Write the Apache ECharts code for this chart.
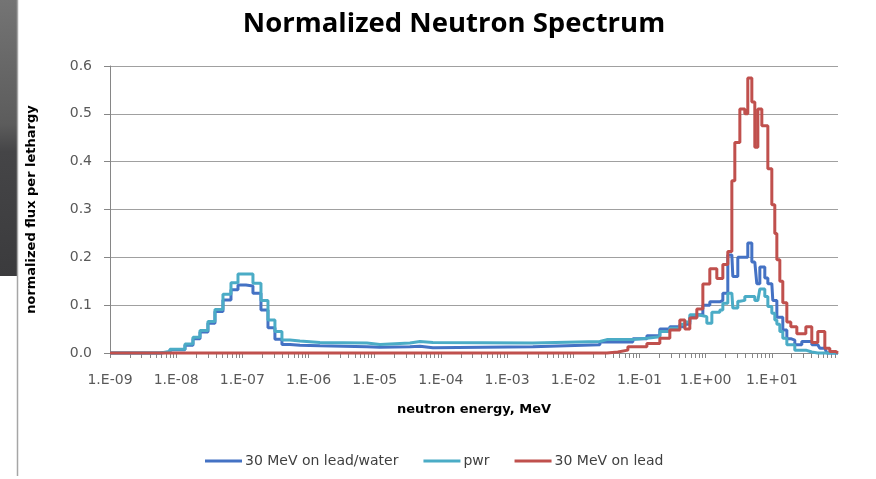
<!DOCTYPE html>
<html>
<head>
<meta charset="utf-8">
<script src="https://cdn.jsdelivr.net/npm/echarts@6/dist/echarts.min.js"></script>
<style>
html,body{margin:0;padding:0;background:#fff;}
#chart{width:876px;height:479px;}
</style>
</head>
<body>
<div id="chart"></div>
<script>
// log10 of neutron energy (MeV) at the lower edge of each step
const logEnergy = [-9, -8.245, -8.094, -7.867, -7.746, -7.640, -7.520, -7.414, -7.293, -7.172,
  -7.066, -6.946, -6.840, -6.719, -6.613, -6.508, -6.402, -6.281, -6.130, -5.828,
  -5.118, -4.921, -4.468, -4.317, -4.121, -2.610, -1.598, -1.492, -1.326, -1.175,
  -1.100, -0.888, -0.692, -0.541, -0.390, -0.314, -0.239, -0.133, -0.042, 0.018,
  0.063, 0.094, 0.169, 0.215, 0.260, 0.335, 0.396, 0.411, 0.441, 0.486,
  0.517, 0.592, 0.637, 0.698, 0.743, 0.773, 0.789, 0.819, 0.849, 0.894,
  0.940, 0.970, 1.000, 1.015, 1.045, 1.076, 1.121, 1.166, 1.227, 1.287,
  1.347, 1.378, 1.453, 1.514, 1.529, 1.604, 1.695, 1.725, 1.801, 1.831,
  1.876, 1.967, 2.0];

const leadWater = [0, .002, .007, .016, .030, .044, .062, .087, .111, .132,
  .142, .140, .125, .090, .053, .029, .018, .016, .015, .013,
  .012, .013, .014, .011, .013, .017, .023, .023, .023, .023,
  .030, .036, .050, .055, .055, .060, .075, .080, .100, .100,
  .107, .107, .107, .110, .125, .205, .205, .160, .160, .200,
  .200, .200, .230, .190, .190, .145, .145, .180, .180, .157,
  .145, .145, .145, .110, .110, .075, .075, .048, .030, .027,
  .017, .017, .024, .024, .024, .017, .017, .010, .010, 0,
  0, 0, 0];

const pwr = [0, .003, .008, .019, .033, .047, .066, .091, .123, .147,
  .165, .165, .146, .110, .069, .045, .027, .025, .022, .021,
  .018, .021, .024, .022, .021, .024, .028, .028, .028, .028,
  .031, .034, .045, .052, .060, .065, .080, .078, .076, .062,
  .062, .085, .085, .090, .104, .125, .125, .094, .094, .108,
  .110, .118, .118, .118, .110, .110, .110, .134, .134, .118,
  .097, .097, .083, .083, .069, .060, .045, .031, .017, .017,
  .006, .006, .006, .006, .002, 0, 0, 0, 0, 0,
  0, 0, 0];

const lead = [0, 0, 0, 0, 0, 0, 0, 0, 0, 0,
  0, 0, 0, 0, 0, 0, 0, 0, 0, 0,
  0, 0, 0, 0, 0, 0, 0, .002, .006, .013,
  .013, .020, .031, .048, .069, .050, .073, .092, .144, .144,
  .176, .176, .156, .156, .185, .212, .360, .360, .440, .440,
  .510, .500, .575, .525, .430, .430, .510, .510, .475, .475,
  .385, .385, .310, .310, .250, .195, .150, .105, .065, .055,
  .055, .040, .040, .055, .055, .022, .045, .045, .010, .010,
  .003, 0, 0];

const seriesNames = ['30 MeV on lead/water', 'pwr', '30 MeV on lead'];
const seriesColors = ['#4472C4', '#4BACC6', '#C0504D'];
const seriesValues = [leadWater, pwr, lead];

// x axis: decades of energy (exponent), -9 .. 2
const xMinExp = -9, xMaxExp = 2;

const tickPositions = [];
for (let e = xMinExp; e < xMaxExp; e++) {
  tickPositions.push(e);
  for (let m = 2; m <= 9; m++) tickPositions.push(e + Math.log10(m));
}
tickPositions.push(xMaxExp);

function fmtExp(v) {
  const e = Math.round(v);
  const a = Math.abs(e);
  return '1.E' + (e < 0 ? '-' : '+') + (a < 10 ? '0' + a : '' + a);
}

const chart = echarts.init(document.getElementById('chart'), null, {renderer: 'canvas'});
const font = 'DejaVu Sans';

chart.setOption({
  animation: false,
  backgroundColor: '#ffffff',
  title: {
    text: 'Normalized Neutron Spectrum',
    left: 449, top: 5, textAlign: 'center',
    textStyle: {fontFamily: 'Open Sans', fontWeight: 'bold', fontSize: 27.5, color: '#000000'}
  },
  graphic: [
    {type: 'rect', shape: {x: 0, y: 0, width: 17, height: 276},
     style: {fill: new echarts.graphic.LinearGradient(0, 0, 0.3, 1, [
       {offset: 0, color: '#747474'}, {offset: 0.45, color: '#5c5c5c'},
       {offset: 0.55, color: '#454547'}, {offset: 1, color: '#3b3b3d'}])}},
    {type: 'line', shape: {x1: 17.5, y1: 0, x2: 17.5, y2: 476},
     style: {stroke: '#a6a6a6', lineWidth: 1.5}}
  ],
  legend: {
    data: seriesNames,
    left: 200, top: 449,
    itemWidth: 37, itemHeight: 3, itemGap: 25,
    icon: 'rect',
    textStyle: {fontFamily: font, fontSize: 14, color: '#404040', padding: [0, 0, 0, -2]}
  },
  grid: {left: 110, right: 38, top: 66, bottom: 126, containLabel: false},
  xAxis: {
    type: 'value', min: xMinExp, max: xMaxExp, interval: 1,
    name: 'neutron energy, MeV', nameLocation: 'middle', nameGap: 50,
    nameTextStyle: {fontFamily: font, fontWeight: 'bold', fontSize: 13, color: '#000'},
    axisLine: {show: true, onZero: false, lineStyle: {color: '#868686', width: 1}},
    axisTick: {show: true, length: 5, customValues: tickPositions, lineStyle: {color: '#868686'}},
    axisLabel: {fontFamily: font, fontSize: 14, color: '#595959', margin: 20,
      formatter: fmtExp, showMaxLabel: false},
    splitLine: {show: false}
  },
  yAxis: {
    type: 'value', min: 0, max: 0.6, interval: 0.1,
    name: 'normalized flux per lethargy', nameLocation: 'middle', nameGap: 72,
    nameTextStyle: {fontFamily: font, fontWeight: 'bold', fontSize: 13, color: '#000'},
    axisLine: {show: true, onZero: false, lineStyle: {color: '#868686'}},
    axisTick: {show: true, length: 6, lineStyle: {color: '#868686'}},
    axisLabel: {fontFamily: font, fontSize: 14, color: '#595959', margin: 18,
      formatter: v => v.toFixed(1)},
    splitLine: {show: true, lineStyle: {color: '#a0a0a0', width: 1}}
  },
  series: seriesValues.map((vals, k) => ({
    name: seriesNames[k],
    type: 'line',
    step: 'end',
    showSymbol: false,
    symbol: 'none',
    clip: false,
    color: seriesColors[k],
    lineStyle: {width: 3, color: seriesColors[k]},
    z: 2 + k,
    data: logEnergy.map((le, i) => [le, vals[i]])
  }))
});
</script>
</body>
</html>
